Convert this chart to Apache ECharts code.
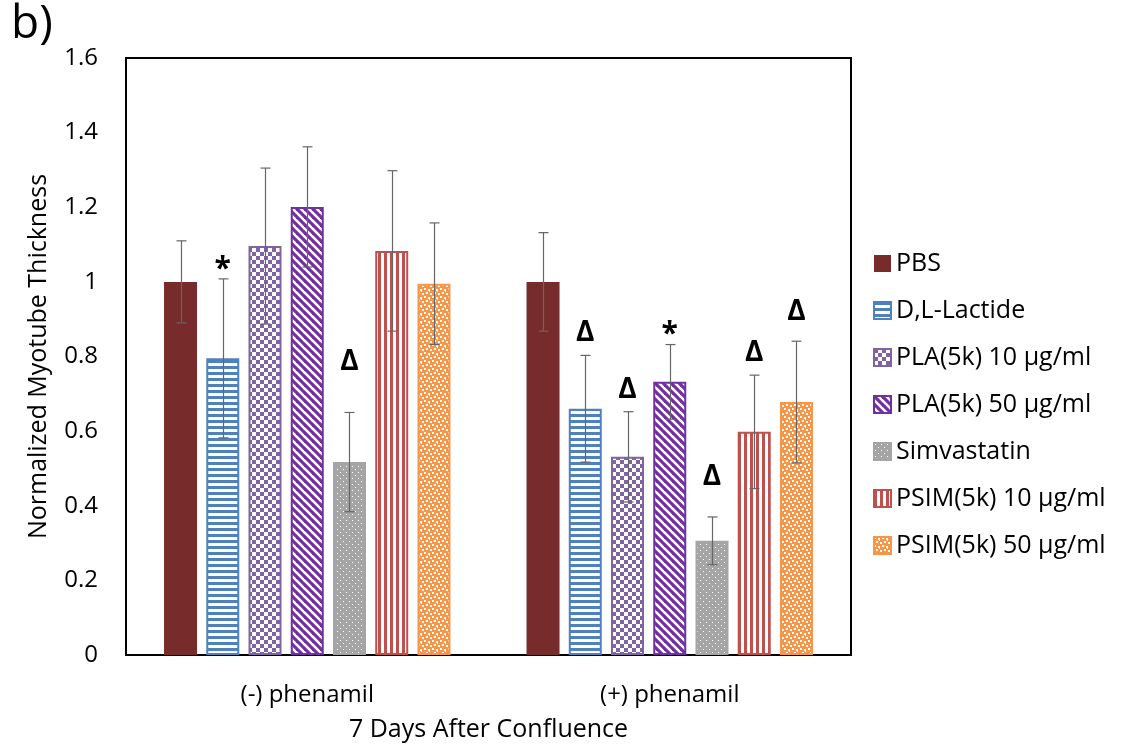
<!DOCTYPE html>
<html>
<head>
<meta charset="utf-8">
<script src="https://cdn.jsdelivr.net/npm/echarts@6/dist/echarts.min.js"></script>
<style>
  html, body { margin: 0; padding: 0; background: #ffffff; }
  #chart { width: 1129px; height: 750px; }
</style>
</head>
<body>
<div id="chart"></div>
<script>
// ---- data ----
const categories = ['(-) phenamil', '(+) phenamil'];
const seriesNames = ['PBS', 'D,L-Lactide', 'PLA(5k) 10 μg/ml', 'PLA(5k) 50 μg/ml',
                     'Simvastatin', 'PSIM(5k) 10 μg/ml', 'PSIM(5k) 50 μg/ml'];

const pbs         = [1.000, 1.000];
const dlLactide   = [0.795, 0.660];
const pla10       = [1.096, 0.531];
const pla50       = [1.201, 0.732];
const simvastatin = [0.517, 0.306];
const psim10      = [1.083, 0.598];
const psim50      = [0.995, 0.678];

const pbsErr         = [0.110, 0.132];
const dlLactideErr   = [0.213, 0.143];
const pla10Err       = [0.209, 0.121];
const pla50Err       = [0.161, 0.100];
const simvastatinErr = [0.133, 0.064];
const psim10Err      = [0.215, 0.152];
const psim50Err      = [0.163, 0.163];

// significance marks: series index, category index, symbol, height (axis units)
const markSeries   = [1, 4, 1, 2, 3, 4, 5, 6];
const markCategory = [0, 0, 1, 1, 1, 1, 1, 1];
const markText     = ['*', 'Δ', 'Δ', 'Δ', '*', 'Δ', 'Δ', 'Δ'];
const markLevel    = [1.045, 0.785, 0.863, 0.710, 0.871, 0.477, 0.809, 0.919];

const yMin = 0, yMax = 1.6, yStep = 0.2;

const values = [pbs, dlLactide, pla10, pla50, simvastatin, psim10, psim50];
const errors = [pbsErr, dlLactideErr, pla10Err, pla50Err, simvastatinErr, psim10Err, psim50Err];

// ---- fill patterns ----
function tile(w, h, draw) {
  const c = document.createElement('canvas');
  c.width = w; c.height = h;
  const g = c.getContext('2d');
  g.fillStyle = '#ffffff';
  g.fillRect(0, 0, w, h);
  draw(g, w, h);
  return c;
}
const patterns = {
  solid: (col) => col,
  hstripe: (col) => tile(6, 6, (g) => { g.fillStyle = col; g.fillRect(0, 0, 6, 3); }),
  checker: (col) => tile(8, 8, (g) => {
    g.fillStyle = col; g.fillRect(0, 0, 4, 4); g.fillRect(4, 4, 4, 4);
  }),
  diag: (col) => tile(8, 8, (g) => {
    g.strokeStyle = col; g.lineWidth = 3.2;
    for (let c = -16; c <= 16; c += 8) {
      g.beginPath(); g.moveTo(c - 4, -4); g.lineTo(c + 12, 12); g.stroke();
    }
  }),
  dots: (col) => tile(6, 6, (g) => {
    g.fillStyle = col; g.fillRect(0, 0, 6, 6);
    g.fillStyle = '#ffffff'; g.fillRect(1, 1, 1, 1); g.fillRect(4, 4, 1, 1);
  }),
  vstripe: (col) => tile(6, 6, (g) => { g.fillStyle = col; g.fillRect(0, 0, 3, 6); }),
  confetti: (col) => tile(8, 8, (g) => {
    g.fillStyle = col; g.fillRect(0, 0, 8, 8);
    g.fillStyle = '#ffffff';
    g.fillRect(0, 0, 2, 2); g.fillRect(4, 1, 2, 2); g.fillRect(2, 4, 2, 2);
    g.fillRect(6, 5, 2, 2); g.fillRect(5, 3, 1, 1);
  })
};
const seriesColors   = ['#772B2B', '#4F81BD', '#8064A2', '#7030A0', '#A5A5A5', '#C0504D', '#F79646'];
const seriesPatterns = ['solid', 'hstripe', 'checker', 'diag', 'dots', 'vstripe', 'confetti'];

function fillFor(i) {
  const p = patterns[seriesPatterns[i]](seriesColors[i]);
  return typeof p === 'string' ? p : { image: p, repeat: 'repeat' };
}

const FONT = '"Open Sans", "Noto Sans", "DejaVu Sans", sans-serif';
const BAR_W = 33;
const BAR_GAP = 0.28;
const step = BAR_W * (1 + BAR_GAP);
const nSeries = seriesNames.length;

const barSeries = seriesNames.map((name, i) => ({
  name: name,
  type: 'bar',
  data: values[i],
  barWidth: BAR_W,
  barGap: (BAR_GAP * 100) + '%',
  itemStyle: { color: fillFor(i), borderColor: seriesColors[i], borderWidth: i === 0 ? 0 : 2 },
  emphasis: { disabled: true }
}));

// error bars for every bar
const errData = [];
values.forEach((arr, s) => arr.forEach((v, c) => errData.push([c, v, errors[s][c], s])));

const errSeries = {
  type: 'custom',
  silent: true,
  z: 5,
  data: errData,
  encode: { x: 0, y: 1 },
  renderItem: function (params, api) {
    const c = api.value(0), v = api.value(1), e = api.value(2), s = api.value(3);
    const dx = (s - (nSeries - 1) / 2) * step;
    const top = api.coord([c, v + e]);
    const bot = api.coord([c, v - e]);
    const x = Math.round(top[0] + dx) + 0.5;
    const style = { stroke: '#666666', lineWidth: 1.2 };
    return {
      type: 'group',
      children: [
        { type: 'line', shape: { x1: x, y1: top[1], x2: x, y2: bot[1] }, style },
        { type: 'line', shape: { x1: x - 5, y1: top[1], x2: x + 5, y2: top[1] }, style },
        { type: 'line', shape: { x1: x - 5, y1: bot[1], x2: x + 5, y2: bot[1] }, style }
      ]
    };
  }
};

const markData = markText.map((t, k) => [markCategory[k], markLevel[k], markSeries[k]]);
const markSeriesDef = {
  type: 'custom',
  silent: true,
  z: 6,
  data: markData,
  encode: { x: 0, y: 1 },
  renderItem: function (params, api) {
    const c = api.value(0), lv = api.value(1), s = api.value(2);
    const p = api.coord([c, lv]);
    const t = markText[params.dataIndex];
    return {
      type: 'text',
      x: p[0] + (s - (nSeries - 1) / 2) * step,
      y: p[1] + (t === '*' ? 4 : 0),
      style: {
        text: t,
        fill: '#000000',
        font: (t === '*' ? 'bold 30px ' : 'bold 28px ') + FONT,
        align: 'center',
        verticalAlign: 'middle'
      }
    };
  }
};

const chart = echarts.init(document.getElementById('chart'), null, { renderer: 'canvas' });
chart.setOption({
  animation: false,
  backgroundColor: '#ffffff',
  textStyle: { fontFamily: FONT },
  graphic: [{
    type: 'text', left: 11, top: 2,
    style: { text: 'b)', font: '46px ' + FONT, fill: '#000000' }
  }],
  grid: {
    left: 126, top: 58, right: 278, bottom: 95,
    outerBoundsMode: 'none',
    containLabel: false,
    show: true, borderColor: '#000000', borderWidth: 2, backgroundColor: 'transparent'
  },
  legend: {
    orient: 'vertical',
    left: 868, top: 246,
    itemWidth: 17, itemHeight: 17,
    itemGap: 22,
    icon: 'rect',
    selectedMode: false,
    data: seriesNames,
    textStyle: { fontSize: 25, color: '#000000', fontFamily: FONT }
  },
  xAxis: {
    type: 'category',
    data: categories,
    name: '7 Days After Confluence',
    nameLocation: 'middle',
    nameGap: 62,
    nameTextStyle: { fontSize: 25, color: '#000000' },
    axisLine: { lineStyle: { color: '#000000', width: 2 } },
    axisTick: { show: false },
    axisLabel: { fontSize: 24, color: '#000000', margin: 28 }
  },
  yAxis: {
    type: 'value',
    min: yMin, max: yMax, interval: yStep,
    name: 'Normalized Myotube Thickness',
    nameLocation: 'middle',
    nameGap: 75,
    nameTextStyle: { fontSize: 25, color: '#000000' },
    axisLine: { show: true, lineStyle: { color: '#000000', width: 2 } },
    axisTick: { show: false },
    splitLine: { show: false },
    axisLabel: { fontSize: 24, color: '#000000', margin: 28 }
  },
  series: barSeries.concat([errSeries, markSeriesDef])
});
</script>
</body>
</html>
